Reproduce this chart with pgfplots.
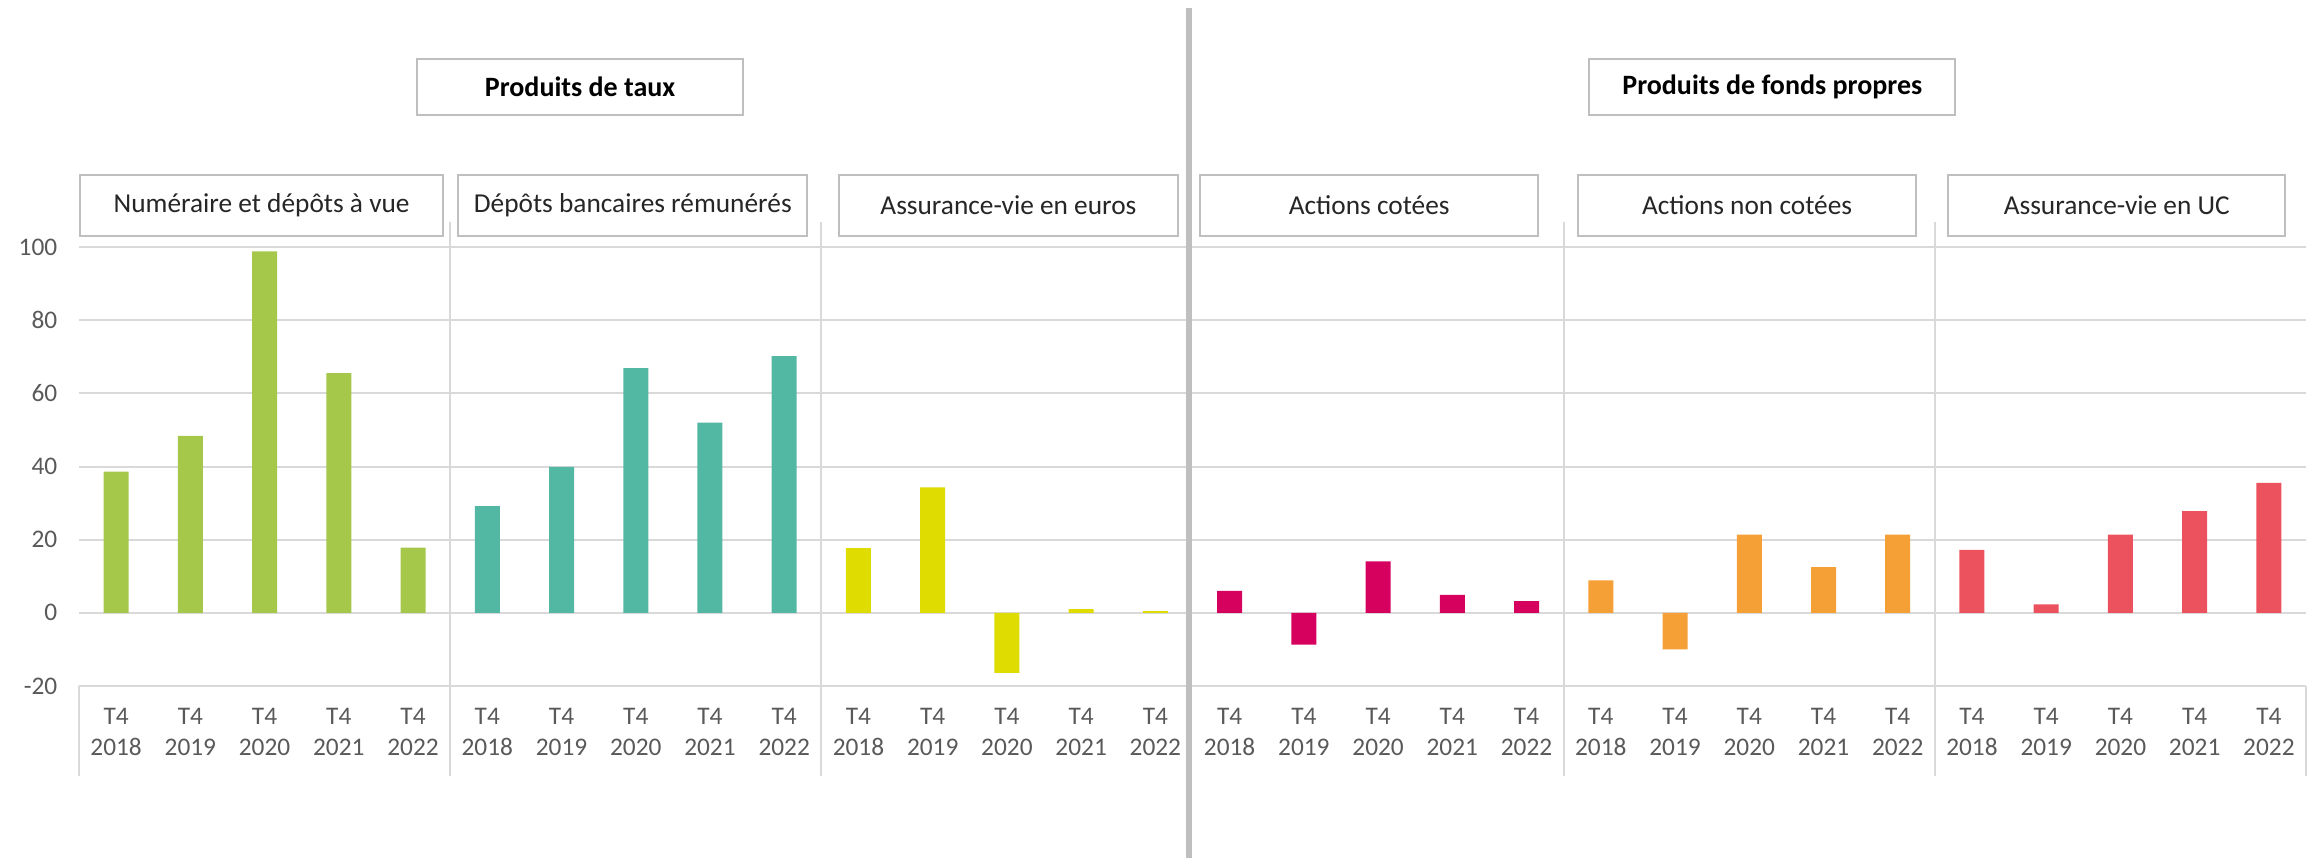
\documentclass[border=0pt]{standalone}
\usepackage{fontspec}
\setmainfont{Carlito}
\usepackage{pgfplots}
\pgfplotsset{compat=1.18}

\definecolor{cNum}{HTML}{A5C84A}
\definecolor{cDep}{HTML}{52B8A4}
\definecolor{cAve}{HTML}{DEDC00}
\definecolor{cAct}{HTML}{D6005F}
\definecolor{cAnc}{HTML}{F5A036}
\definecolor{cAuc}{HTML}{EC515E}
\definecolor{gridgray}{HTML}{D9D9D9}
\definecolor{boxgray}{HTML}{BFBFBF}
\definecolor{ticktext}{HTML}{595959}
\definecolor{labtext}{HTML}{262626}

\tikzset{
  catbox/.style={draw=boxgray, line width=0.6pt, fill=white, minimum height=18.3pt,
    inner sep=0pt, font=\fontsize{8.2}{9}\selectfont, text=labtext},
  titlebox/.style={draw=boxgray, line width=0.6pt, fill=white, minimum height=16.8pt,
    inner sep=0pt, font=\fontsize{8.4}{9}\selectfont\bfseries, text=black},
}

\begin{document}
\begin{tikzpicture}
\useasboundingbox (-23.7pt,-51.3pt) rectangle (668.7pt,205.8pt);
\begin{axis}[
  scale only axis,
  width=668.1pt, height=131.7pt,
  xmin=-0.5, xmax=29.5,
  ymin=-20, ymax=100,
  ytick={-20,0,20,40,60,80,100},
  xtick={0,...,29},
  xticklabels={
    {T4\\2018},{T4\\2019},{T4\\2020},{T4\\2021},{T4\\2022},
    {T4\\2018},{T4\\2019},{T4\\2020},{T4\\2021},{T4\\2022},
    {T4\\2018},{T4\\2019},{T4\\2020},{T4\\2021},{T4\\2022},
    {T4\\2018},{T4\\2019},{T4\\2020},{T4\\2021},{T4\\2022},
    {T4\\2018},{T4\\2019},{T4\\2020},{T4\\2021},{T4\\2022},
    {T4\\2018},{T4\\2019},{T4\\2020},{T4\\2021},{T4\\2022}},
  xticklabel style={align=center, anchor=north, yshift=-3pt,
    font=\fontsize{7.6}{9.3}\selectfont, text=ticktext},
  yticklabel style={anchor=east, xshift=-3pt,
    font=\fontsize{7.6}{9}\selectfont, text=ticktext},
  /pgf/number format/assume math mode=true,
  ymajorgrids,
  grid style={gridgray, line width=0.6pt},
  axis line style={draw=none},
  major tick length=0pt,
  clip=false,
]
% separators
\foreach \s in {-0.5,4.5,9.5,19.5,24.5,29.5}{
  \edef\tmp{\noexpand\draw[gridgray, line width=0.6pt] (axis cs:\s,-20) -- (axis cs:\s,-44.7);}\tmp
}
\foreach \s in {4.5,9.5,19.5,24.5}{
  \edef\tmp{\noexpand\draw[gridgray, line width=0.6pt] (axis cs:\s,106.8) -- (axis cs:\s,-20);}\tmp
}
\draw[boxgray, line width=1.8pt] (axis cs:14.45,165.2) -- (axis cs:14.45,-67.2);

\addplot[ybar, bar width=7.5pt, bar shift=0pt, fill=cNum, draw=none]
  coordinates {(0,38.6) (1,48.4) (2,98.8) (3,65.5) (4,17.8)};
\addplot[ybar, bar width=7.5pt, bar shift=0pt, fill=cDep, draw=none]
  coordinates {(5,29.2) (6,39.9) (7,66.9) (8,52.0) (9,70.2)};
\addplot[ybar, bar width=7.5pt, bar shift=0pt, fill=cAve, draw=none]
  coordinates {(10,17.7) (11,34.3) (12,-16.4) (13,1.0) (14,0.5)};
\addplot[ybar, bar width=7.5pt, bar shift=0pt, fill=cAct, draw=none]
  coordinates {(15,6.0) (16,-8.7) (17,14.1) (18,4.9) (19,3.2)};
\addplot[ybar, bar width=7.5pt, bar shift=0pt, fill=cAnc, draw=none]
  coordinates {(20,8.9) (21,-10.0) (22,21.4) (23,12.5) (24,21.4)};
\addplot[ybar, bar width=7.5pt, bar shift=0pt, fill=cAuc, draw=none]
  coordinates {(25,17.2) (26,2.3) (27,21.4) (28,27.8) (29,35.5)};

% group labels
\node[catbox, minimum width=108.9pt] at (axis cs:1.96,111.4) {Numéraire et dépôts à vue};
\node[catbox, minimum width=104.7pt] at (axis cs:6.96,111.4) {Dépôts bancaires rémunérés};
\node[catbox, minimum width=101.7pt] at (axis cs:12.02,111.4) {Assurance-vie en euros};
\node[catbox, minimum width=101.4pt] at (axis cs:16.88,111.4) {Actions cotées};
\node[catbox, minimum width=101.4pt] at (axis cs:21.97,111.4) {Actions non cotées};
\node[catbox, minimum width=101.1pt] at (axis cs:26.95,111.4) {Assurance-vie en UC};
\node[titlebox, minimum width=97.8pt] at (axis cs:6.25,143.8) {Produits de taux};
\node[titlebox, minimum width=109.8pt] at (axis cs:22.31,143.8) {Produits de fonds propres};
\end{axis}
\end{tikzpicture}
\end{document}
